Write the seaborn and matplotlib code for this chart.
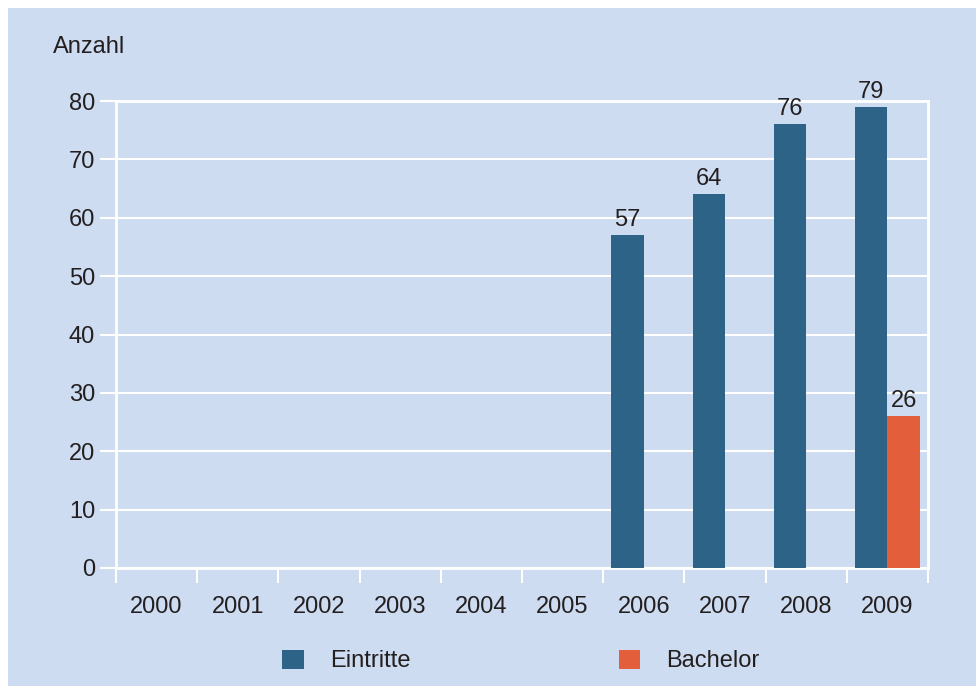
import matplotlib
matplotlib.use("Agg")
import matplotlib.pyplot as plt
import matplotlib.patches as mpatches
import seaborn as sns
import pandas as pd
import numpy as np

years = ["2000", "2001", "2002", "2003", "2004", "2005", "2006", "2007", "2008", "2009"]
eintritte = [np.nan, np.nan, np.nan, np.nan, np.nan, np.nan, 57, 64, 76, 79]
bachelor = [np.nan, np.nan, np.nan, np.nan, np.nan, np.nan, np.nan, np.nan, np.nan, 26]
series_names = ["Eintritte", "Bachelor"]
colors = ["#2d6387", "#e35e3a"]
yticks = [0, 10, 20, 30, 40, 50, 60, 70, 80]

df = pd.DataFrame({
    "Jahr": years * 2,
    "Wert": eintritte + bachelor,
    "Serie": [series_names[0]] * len(years) + [series_names[1]] * len(years),
})

sns.set_theme(style="white")
plt.rcParams["font.family"] = ["Liberation Sans", "DejaVu Sans"]
text_color = "#231f20"
bg = "#cddcf0"
fs = 17

fig = plt.figure(figsize=(9.76, 6.86), dpi=100)
fig.patch.set_facecolor("white")
fig.patches.append(mpatches.Rectangle((8 / 976, 0), 1, 1 - 8 / 686, transform=fig.transFigure,
                                      facecolor=bg, edgecolor="none", zorder=-10))

ax = fig.add_axes([116 / 976, 1 - 568 / 686, (928 - 116) / 976, (568 - 101) / 686])
ax.set_facecolor(bg)

sns.barplot(data=df, x="Jahr", y="Wert", hue="Serie", order=years, hue_order=series_names,
            palette=colors, width=0.8, gap=0, saturation=1, ax=ax, legend=False, zorder=3,
            linewidth=0, edgecolor="none")

for cont in ax.containers:
    labels = ["" if (v is None or np.isnan(v)) else f"{int(v)}" for v in cont.datavalues]
    ax.bar_label(cont, labels=labels, padding=3, fontsize=fs, color=text_color)

ax.set_ylim(0, 80)
ax.set_xlim(-0.5, len(years) - 0.5)
ax.set_yticks(yticks)
ax.set_yticklabels([str(t) for t in yticks], fontsize=fs, color=text_color)
ax.yaxis.grid(True, color="white", linewidth=1.5, zorder=0)
ax.set_axisbelow(True)

ax.set_xticks(np.arange(-0.5, len(years), 1.0))
ax.set_xticklabels([])
ax.set_xticks(np.arange(len(years)), minor=True)
ax.set_xticklabels(years, minor=True, fontsize=fs, color=text_color)
ax.tick_params(axis="x", which="major", bottom=True, length=11, width=1.5, color="white", direction="out")
ax.tick_params(axis="x", which="minor", bottom=True, length=0, pad=20)
ax.tick_params(axis="y", left=True, length=11.5, width=1.5, color="white", direction="out", pad=3.6)

for side in ["left", "right", "top", "bottom"]:
    ax.spines[side].set_visible(True)
    ax.spines[side].set_color("white")
    ax.spines[side].set_linewidth(2)

ax.set_xlabel("")
ax.set_ylabel("")

fig.text(53 / 976, 1 - 47 / 686, "Anzahl", fontsize=fs, color=text_color, ha="left", va="center")

handles = [mpatches.Patch(facecolor=c, edgecolor="none") for c in colors]
fig.legend(handles, series_names, loc="center", bbox_to_anchor=(521 / 976, 1 - 661 / 686),
           ncol=2, frameon=False, fontsize=fs, handlelength=0.9, handleheight=0.9,
           handletextpad=1.1, columnspacing=8.85, labelcolor=text_color)

fig.savefig("out.png", dpi=100, facecolor=fig.get_facecolor())
